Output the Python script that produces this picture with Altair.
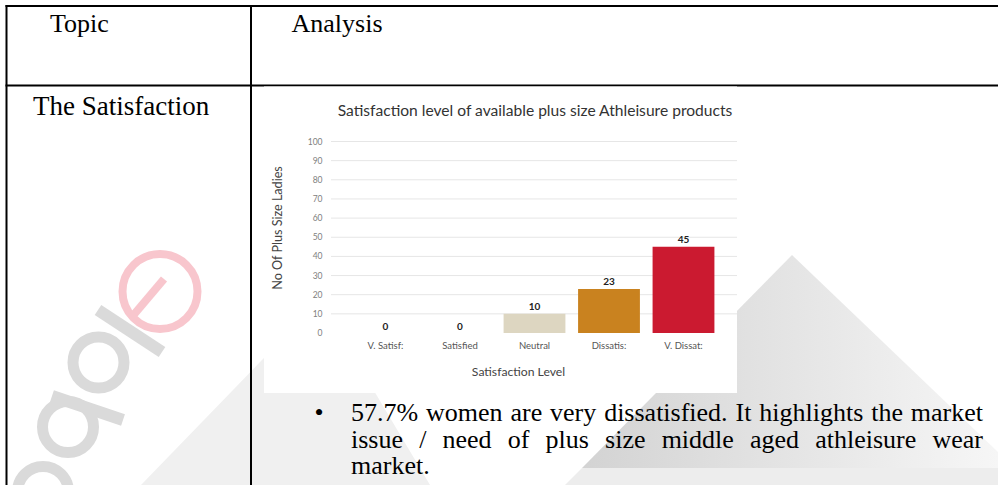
import altair as alt
import pandas as pd

# ---------------------------------------------------------------- data
levels = ["V. Satisf:", "Satisfied", "Neutral", "Dissatis:", "V. Dissat:"]
counts = [0, 0, 10, 23, 45]
bar_colors = ["#3f7f3a", "#8fbf5a", "#ddd6c1", "#c9821f", "#cb1a30"]
y_ticks = [0, 10, 20, 30, 40, 50, 60, 70, 80, 90, 100]

chart_title = "Satisfaction level of available plus size Athleisure products"
y_title = "No Of Plus Size Ladies"
x_title = "Satisfaction Level"

header_topic = "Topic"
header_analysis = "Analysis"
row_topic = "The Satisfaction"
bullet_lines = [
    "57.7% women are very dissatisfied. It highlights the market",
    "issue / need of plus size middle aged athleisure wear",
    "market.",
]

# ---------------------------------------------------------------- layout
W, H = 998, 485
SERIF = "Liberation Serif"
SANS = "Lato"
BODY = 26

TABLE_LEFT, COL_SPLIT, TABLE_TOP, ROW_SPLIT = 6.5, 251, 6, 85.5
FIG_X0, FIG_X1, FIG_Y0, FIG_Y1 = 264, 737, 86.5, 393

x_scale = alt.Scale(domain=levels, range=[348.25, 720.75],
                    paddingInner=0.17, paddingOuter=0.085)
y_scale = alt.Scale(domain=[0, 100], range=[333, 141.5], nice=False)

# Times-compatible advance widths (per 1000 em) for justified body text
ADV = {" ": 250, ".": 250, "/": 278, "%": 833, "I": 333,
       "a": 444, "b": 500, "c": 444, "d": 500, "e": 444, "f": 333, "g": 500,
       "h": 500, "i": 278, "j": 278, "k": 500, "l": 278, "m": 778, "n": 500,
       "o": 500, "p": 500, "q": 500, "r": 333, "s": 389, "t": 278, "u": 500,
       "v": 500, "w": 722, "x": 500, "y": 500, "z": 444}


def text_width(s, size):
    return sum(ADV.get(c, 500) for c in s) * size / 1000


def word_rows(line, y, x0, x1, size, justify=True):
    words = line.split()
    widths = [text_width(w, size) for w in words]
    if justify and len(words) > 1:
        gap = (x1 - x0 - sum(widths)) / (len(words) - 1)
    else:
        gap = text_width(" ", size)
    rows, x = [], x0
    for w, wd in zip(words, widths):
        rows.append({"word": w, "px": x, "py": y})
        x += wd + gap
    return rows


one = alt.Data(values=[{}])


def fixed_text(text, x, y, **kw):
    return alt.Chart(one).mark_text(text=text, **kw).encode(
        x=alt.value(x), y=alt.value(y))


def hline(x0, x1, y, **kw):
    return alt.Chart(one).mark_rule(**kw).encode(
        x=alt.value(x0), x2=alt.value(x1), y=alt.value(y))


def vline(x, y0, y1, **kw):
    return alt.Chart(one).mark_rule(**kw).encode(
        x=alt.value(x), y=alt.value(y0), y2=alt.value(y1))


def px(field):
    return alt.X(f"{field}:Q", scale=None, axis=None)


def py(field):
    return alt.Y(f"{field}:Q", scale=None, axis=None)


# ---------------------------------------------------------------- backdrop marks
shade = alt.Gradient(
    gradient="linear", x1=0, x2=1, y1=0, y2=0,
    stops=[alt.GradientStop(color="#d3d3d3", offset=0),
           alt.GradientStop(color="#f6f6f6", offset=1)])

big_shape = alt.Chart(alt.Data(values=[
    {"px": 582, "top": 468, "bot": 468},
    {"px": 792, "top": 255, "bot": 468},
    {"px": 998, "top": 452, "bot": 468},
])).mark_area(color=shade).encode(x=px("px"), y=py("top"), y2="bot:Q")

low_band = alt.Chart(alt.Data(values=[
    {"px": 565, "top": 485, "bot": 485},
    {"px": 582, "top": 468, "bot": 485},
    {"px": 998, "top": 468, "bot": 485},
])).mark_area(color="#ededed").encode(x=px("px"), y=py("top"), y2="bot:Q")

left_shape = alt.Chart(alt.Data(values=[
    {"px": 141, "top": 485, "bot": 485},
    {"px": 320, "top": 300, "bot": 485},
    {"px": 430, "top": 485, "bot": 485},
])).mark_area(color="#f0f0f0").encode(x=px("px"), y=py("top"), y2="bot:Q")

logo_strokes = alt.Chart(alt.Data(values=[
    {"x": 98, "y": 310, "x2": 162, "y2": 352},
    {"x": 52, "y": 396, "x2": 123, "y2": 420},
])).mark_rule(color="#dadada", strokeWidth=12).encode(
    x=px("x"), y=py("y"), x2="x2:Q", y2="y2:Q")

logo_rings = alt.Chart(alt.Data(values=[
    {"x": 98.5, "y": 362.5, "s": 2601},
    {"x": 68, "y": 427, "s": 2601},
    {"x": 43, "y": 492, "s": 2601},
])).mark_point(shape="circle", filled=False, color="#dadada",
               strokeWidth=11, opacity=1).encode(
    x=px("x"), y=py("y"), size=alt.Size("s:Q", scale=None, legend=None))

tick_ring = alt.Chart(alt.Data(values=[{"x": 160, "y": 291.5, "s": 5625}])).mark_point(
    shape="circle", filled=False, color="#f8c6cd", strokeWidth=8, opacity=1).encode(
    x=px("x"), y=py("y"), size=alt.Size("s:Q", scale=None, legend=None))

tick_stroke = alt.Chart(alt.Data(values=[{"x": 164, "y": 279, "x2": 131, "y2": 318}])).mark_rule(
    color="#f8c6cd", strokeWidth=8).encode(x=px("x"), y=py("y"), x2="x2:Q", y2="y2:Q")

# ---------------------------------------------------------------- table grid
grid_lines = [
    hline(TABLE_LEFT - 1, W, TABLE_TOP, color="black", strokeWidth=2),
    hline(TABLE_LEFT - 1, W, ROW_SPLIT, color="black", strokeWidth=2),
    vline(TABLE_LEFT, TABLE_TOP - 1, H, color="black", strokeWidth=2),
    vline(COL_SPLIT, TABLE_TOP - 1, H, color="black", strokeWidth=2),
]

# ---------------------------------------------------------------- bar chart figure
fig_box = alt.Chart(one).mark_rect(color="white").encode(
    x=alt.value(FIG_X0), x2=alt.value(FIG_X1),
    y=alt.value(FIG_Y0), y2=alt.value(FIG_Y1))

bar_df = pd.DataFrame({"level": levels, "count": counts})
tick_df = pd.DataFrame({"tick": y_ticks})

x_enc = alt.X("level:N", scale=x_scale, axis=None, sort=levels)

gridlines = alt.Chart(tick_df).transform_filter("datum.tick > 0").mark_rule(
    color="#e6e6e6", strokeWidth=1).encode(
    x=alt.value(331), x2=alt.value(FIG_X1),
    y=alt.Y("tick:Q", scale=y_scale, axis=None))

tick_labels = alt.Chart(tick_df).mark_text(
    align="right", baseline="middle", font=SANS, fontSize=8.5, color="#808080").encode(
    x=alt.value(322.5), y=alt.Y("tick:Q", scale=y_scale, axis=None), text="tick:Q")

bars = alt.Chart(bar_df).mark_bar().encode(
    x=x_enc,
    y=alt.Y("count:Q", scale=y_scale, axis=None),
    color=alt.Color("level:N", scale=alt.Scale(domain=levels, range=bar_colors),
                    legend=None),
)

value_labels = alt.Chart(bar_df).mark_text(
    baseline="alphabetic", dy=-3.5, font=SANS, fontSize=10, fontWeight="bold",
    color="#222222").encode(
    x=x_enc, y=alt.Y("count:Q", scale=y_scale, axis=None), text="count:Q")

level_labels = alt.Chart(bar_df).mark_text(
    baseline="middle", font=SANS, fontSize=9.5, color="#555555").encode(
    x=x_enc, y=alt.value(346), text="level:N")

fig_texts = [
    fixed_text(chart_title, 535, 111, font=SANS, fontSize=15.6, color="#333333",
               align="center", baseline="middle"),
    fixed_text(y_title, 277.5, 228, font=SANS, fontSize=12.6, color="#444444",
               align="center", baseline="middle", angle=270),
    fixed_text(x_title, 518.5, 372, font=SANS, fontSize=12.2, color="#444444",
               align="center", baseline="middle"),
]

# ---------------------------------------------------------------- table text
cell_texts = [
    fixed_text(header_topic, 50, 32, font=SERIF, fontSize=BODY, color="black",
               align="left", baseline="alphabetic"),
    fixed_text(header_analysis, 291.5, 32, font=SERIF, fontSize=BODY, color="black",
               align="left", baseline="alphabetic"),
    fixed_text(row_topic, 33, 115, font=SERIF, fontSize=27, color="black",
               align="left", baseline="alphabetic"),
    fixed_text("\u2022", 319, 421, font=SERIF, fontSize=BODY, color="black",
               align="center", baseline="alphabetic"),
]

TEXT_X0, TEXT_X1 = 351, 983
line_y = [421, 447.5, 474]
rows = []
for i, (line, y) in enumerate(zip(bullet_lines, line_y)):
    rows += word_rows(line, y, TEXT_X0, TEXT_X1, BODY,
                      justify=i < len(bullet_lines) - 1)

bullet_words = alt.Chart(alt.Data(values=rows)).mark_text(
    align="left", baseline="alphabetic", font=SERIF, fontSize=BODY, color="black").encode(
    x=px("px"), y=py("py"), text="word:N")

chart = alt.layer(
    left_shape, big_shape, low_band,
    logo_strokes, logo_rings, tick_ring, tick_stroke,
    *grid_lines,
    fig_box, gridlines, tick_labels, bars, value_labels, level_labels,
    *fig_texts, *cell_texts, bullet_words,
).properties(
    width=W, height=H, padding=0, autosize="none", background="white"
).configure_view(stroke=None)

chart.save("out.html", embed_options={"renderer": "svg", "actions": False})
